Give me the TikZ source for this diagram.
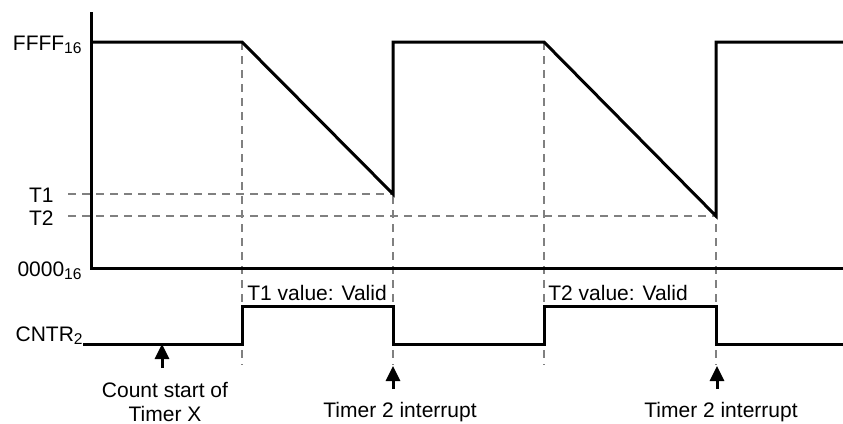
\documentclass[tikz,border=0pt]{standalone}
\usepackage{fontspec}
\setmainfont{Liberation Sans}
\usetikzlibrary{positioning,arrows.meta}
\newcommand{\lowidx}[1]{\raisebox{-0.3ex}{\fontsize{7.8}{9}\selectfont #1}}
\tikzset{
  sigline/.style={line width=1.5pt, line join=miter},
  axisline/.style={line width=1.5pt},
  guideline/.style={gray, line width=0.75pt, dash pattern=on 4pt off 3pt},
  evarrow/.style={-{Triangle[length=7.5pt, width=7pt]}, line width=1.5pt},
  lvlabel/.style={anchor=base east, inner sep=0pt},
  validlabel/.style={anchor=base west, inner sep=0pt},
  notelabel/.style={align=center, inner sep=0pt}
}

\begin{document}
\begin{tikzpicture}[x=0.5pt, y=-0.5pt, every node/.style={font=\fontsize{10.5}{12}\selectfont}]
  \useasboundingbox (0,0) rectangle (843,424);

  % dashed guides
  \foreach \xe in {242,393,544,716}
    \draw[guideline] (\xe,42) -- (\xe,365);
  \draw[guideline] (68,194) -- (393,194);
  \draw[guideline] (68,216) -- (716,216);

  % axes
  \draw[axisline] (91,12) -- (91,268) -- (843,268);

  % counter value
  \draw[sigline] (91,42) -- (242,42) -- (393,194) -- (393,42) -- (544,42)
    -- (716,216) -- (716,42) -- (843,42);

  % CNTR2 level
  \draw[sigline] (83,344) -- (242,344) -- (242,306) -- (393,306) -- (393,344)
    -- (544,344) -- (544,306) -- (716,306) -- (716,344) -- (843,344);

  % level labels
  \node[lvlabel] (ffff) at (82,50) {FFFF\lowidx{16}};
  \node[lvlabel] (t1) at (54,202) {T1};
  \node[lvlabel] (t2) at (54,225) {T2};
  \node[lvlabel] (zero) at (82,276) {0000\lowidx{16}};
  \node[lvlabel] (cntr) at (83,341) {CNTR\lowidx{2}};

  \node[validlabel] (t1valid) at (247,300) {T1 value: Valid};
  \node[validlabel] (t2valid) at (548,300) {T2 value: Valid};

  % events
  \node[notelabel, anchor=north] (cstart) at (165,382) {Count start of\\Timer X};
  \node[notelabel, anchor=base] (irqa) at (400,417) {Timer 2 interrupt};
  \node[notelabel, anchor=base] (irqb) at (721,417) {Timer 2 interrupt};

  \coordinate (cs-tip) at (162,344);
  \coordinate (cs-tail) at (162,368);
  \coordinate (ia-tip) at (393,366);
  \coordinate (ia-tail) at (393,389);
  \coordinate (ib-tip) at (717,366);
  \coordinate (ib-tail) at (717,389);
  \draw[evarrow] (cs-tail) -- (cs-tip);
  \draw[evarrow] (ia-tail) -- (ia-tip);
  \draw[evarrow] (ib-tail) -- (ib-tip);
\end{tikzpicture}
\end{document}
